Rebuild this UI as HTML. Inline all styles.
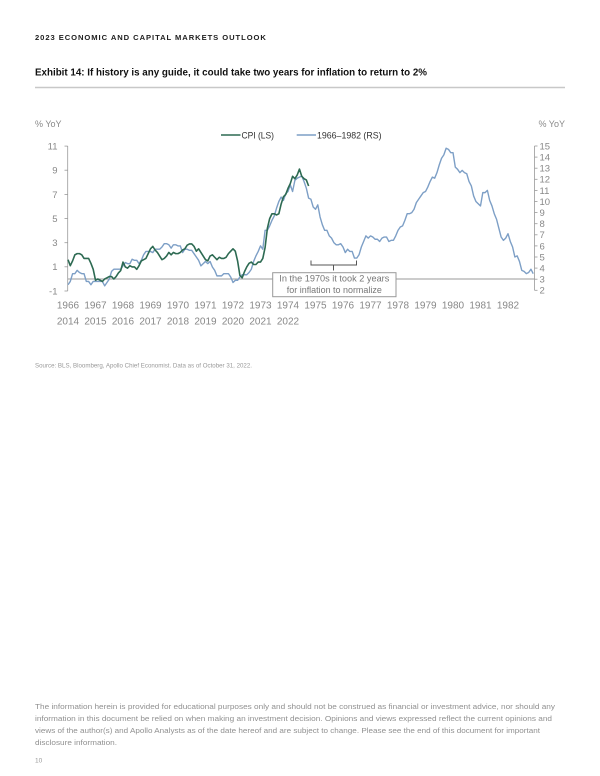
<!DOCTYPE html>
<html><head><meta charset="utf-8"><style>
html,body{margin:0;padding:0;background:#fff;}
svg{display:block;}
text{font-family:"Liberation Sans",sans-serif;}
</style></head><body>
<svg width="600" height="776" viewBox="0 0 600 776" xmlns="http://www.w3.org/2000/svg">
<rect width="600" height="776" fill="#fff"/>
<text x="35" y="40" font-size="7.6" font-weight="bold" fill="#1e1e1e" letter-spacing="0.8" textLength="231.7" lengthAdjust="spacing">2023 ECONOMIC AND CAPITAL MARKETS OUTLOOK</text>
<text x="35" y="75.5" font-size="10" font-weight="bold" fill="#111" textLength="392" lengthAdjust="spacingAndGlyphs">Exhibit 14: If history is any guide, it could take two years for inflation to return to 2%</text>
<line x1="35" y1="87.5" x2="565" y2="87.5" stroke="#c8c8c8" stroke-width="1.5"/>
<text x="35" y="127" font-size="9" fill="#888">% YoY</text>
<text x="565" y="127" font-size="9" fill="#888" text-anchor="end">% YoY</text>
<!-- legend -->
<line x1="221" y1="135" x2="240.5" y2="135" stroke="#2d6a52" stroke-width="1.5"/>
<text x="241.5" y="138.5" font-size="9.5" fill="#333" textLength="32.5" lengthAdjust="spacingAndGlyphs">CPI (LS)</text>
<line x1="296.7" y1="135" x2="316" y2="135" stroke="#7d9fc6" stroke-width="1.5"/>
<text x="317" y="138.5" font-size="9.5" fill="#333" textLength="64.5" lengthAdjust="spacingAndGlyphs">1966–1982 (RS)</text>
<!-- left axis -->
<g stroke="#999" stroke-width="0.8" fill="none">
<line x1="67.7" y1="146" x2="67.7" y2="291"/>
<line x1="64.5" y1="146.1" x2="67.7" y2="146.1"/>
<line x1="64.5" y1="170.2" x2="67.7" y2="170.2"/>
<line x1="64.5" y1="194.4" x2="67.7" y2="194.4"/>
<line x1="64.5" y1="218.5" x2="67.7" y2="218.5"/>
<line x1="64.5" y1="242.7" x2="67.7" y2="242.7"/>
<line x1="64.5" y1="266.8" x2="67.7" y2="266.8"/>
<line x1="64.5" y1="291" x2="67.7" y2="291"/>
<!-- right axis -->
<line x1="534.5" y1="146" x2="534.5" y2="290.3"/>
<line x1="534.5" y1="146" x2="537.5" y2="146"/>
<line x1="534.5" y1="157.1" x2="537.5" y2="157.1"/>
<line x1="534.5" y1="168.2" x2="537.5" y2="168.2"/>
<line x1="534.5" y1="179.3" x2="537.5" y2="179.3"/>
<line x1="534.5" y1="190.4" x2="537.5" y2="190.4"/>
<line x1="534.5" y1="201.5" x2="537.5" y2="201.5"/>
<line x1="534.5" y1="212.6" x2="537.5" y2="212.6"/>
<line x1="534.5" y1="223.7" x2="537.5" y2="223.7"/>
<line x1="534.5" y1="234.8" x2="537.5" y2="234.8"/>
<line x1="534.5" y1="245.9" x2="537.5" y2="245.9"/>
<line x1="534.5" y1="257" x2="537.5" y2="257"/>
<line x1="534.5" y1="268.1" x2="537.5" y2="268.1"/>
<line x1="534.5" y1="279.2" x2="537.5" y2="279.2"/>
<line x1="534.5" y1="290.3" x2="537.5" y2="290.3"/>
</g>
<g font-size="9.5" fill="#888" text-anchor="end">
<text x="57.5" y="149.5">11</text>
<text x="57.5" y="173.6">9</text>
<text x="57.5" y="197.8">7</text>
<text x="57.5" y="221.9">5</text>
<text x="57.5" y="246.1">3</text>
<text x="57.5" y="270.2">1</text>
<text x="57.5" y="294.4">-1</text>
</g>
<g font-size="9.5" fill="#888">
<text x="539.5" y="149.4">15</text>
<text x="539.5" y="160.5">14</text>
<text x="539.5" y="171.6">13</text>
<text x="539.5" y="182.7">12</text>
<text x="539.5" y="193.8">11</text>
<text x="539.5" y="204.9">10</text>
<text x="539.5" y="216">9</text>
<text x="539.5" y="227.1">8</text>
<text x="539.5" y="238.2">7</text>
<text x="539.5" y="249.3">6</text>
<text x="539.5" y="260.4">5</text>
<text x="539.5" y="271.5">4</text>
<text x="539.5" y="282.6">3</text>
<text x="539.5" y="293.7">2</text>
</g>
<!-- zero line -->
<line x1="68" y1="279" x2="535" y2="279" stroke="#999" stroke-width="1"/>
<!-- blue series 1966-1982 -->
<polyline fill="none" stroke="#7d9fc6" stroke-width="1.4" stroke-linejoin="round" vector-effect="non-scaling-stroke" transform="matrix(2.2917 0 0 -11.1 56.54 312.5)" points="
5,2.5 6,2.8 7,3.5 8,3.5 9,3.8 10,3.6 11,3.5
12,3.5 13,2.8 14,2.8 15,2.5 16,2.8 17,2.8 18,2.8 19,2.8 20,2.8 21,2.4 22,2.7 23,3.0
24,3.7 25,3.9 26,3.9 27,3.9 28,3.9 29,4.2 30,4.5 31,4.4 32,4.4 33,4.8 34,4.7 35,4.7
36,4.4 37,4.7 38,5.2 39,5.5 40,5.5 41,5.5 42,5.4 43,5.7 44,5.7 45,5.7 46,5.9 47,6.2
48,6.2 49,6.1 50,5.8 51,6.1 52,6.1 53,6.0 54,6.0 55,5.4 56,5.7 57,5.7 58,5.6 59,5.6
60,5.3 61,5.0 62,4.7 63,4.2 64,4.4 65,4.6 66,4.4 67,4.6 68,4.1 69,3.8 70,3.3 71,3.3
72,3.3 73,3.5 74,3.5 75,3.5 76,3.2 77,2.7 78,2.9 79,2.9 80,3.2 81,3.4 82,3.4 83,3.4
84,3.6 85,3.9 86,4.6 87,5.1 88,5.5 89,6.0 90,5.7 91,7.4 92,7.4 93,7.8 94,8.3 95,8.7
96,9.4 97,10.0 98,10.4 99,10.1 100,10.7 101,10.9 102,11.5 103,10.9 104,11.9 105,12.1 106,12.2 107,12.3
108,11.8 109,11.2 110,10.3 111,10.2 112,9.5 113,9.3 114,9.7 115,8.6 116,7.9 117,7.4 118,7.4 119,6.9
120,6.7 121,6.3 122,6.1 123,6.1 124,6.2 125,5.9 126,5.4 127,5.7 128,5.5 129,5.5 130,4.9 131,4.9
132,5.2 133,5.9 134,6.4 135,6.9 136,6.7 137,6.9 138,6.8 139,6.6 140,6.6 141,6.4 142,6.7 143,6.8
144,6.8 145,6.4 146,6.5 147,6.5 148,6.9 149,7.4 150,7.7 151,7.8 152,8.3 153,8.9 154,8.9 155,9.0
156,9.3 157,9.9 158,10.2 159,10.5 160,10.8 161,10.9 162,11.3 163,11.8 164,12.2 165,12.1 166,12.6 167,13.3
168,13.9 169,14.2 170,14.8 171,14.7 172,14.4 173,14.4 174,13.1 175,12.9 176,12.6 177,12.8 178,12.6 179,12.5
180,11.8 181,11.4 182,10.5 183,10.0 184,9.8 185,9.6 186,10.8 187,10.8 188,11.0 189,10.1 190,9.6 191,8.9
192,8.4 193,7.6 194,6.8 195,6.5 196,6.7 197,7.1 198,6.4 199,5.9 200,5.0 201,5.1 202,4.6 203,3.8
204,3.7 205,3.5 206,3.6 207,3.9 208,3.5"/>
<!-- green series CPI 2014-2022 -->
<polyline fill="none" stroke="#2d6a52" stroke-width="1.6" stroke-linejoin="round" vector-effect="non-scaling-stroke" transform="matrix(2.2917 0 0 -12.08 68 279)" points="
0,1.6 1,1.1 2,1.5 3,2.0 4,2.1 5,2.1 6,2.0 7,1.7 8,1.7 9,1.7 10,1.3 11,0.8
12,-0.1 13,0.0 14,-0.1 15,-0.2 16,0.0 17,0.1 18,0.2 19,0.2 20,0.0 21,0.2 22,0.5 23,0.7
24,1.4 25,1.0 26,0.9 27,1.1 28,1.0 29,1.0 30,0.8 31,1.1 32,1.5 33,1.6 34,1.7 35,2.1
36,2.5 37,2.7 38,2.4 39,2.2 40,1.9 41,1.6 42,1.7 43,1.9 44,2.2 45,2.0 46,2.2 47,2.1
48,2.1 49,2.2 50,2.4 51,2.5 52,2.8 53,2.9 54,2.9 55,2.7 56,2.3 57,2.5 58,2.2 59,1.9
60,1.6 61,1.5 62,1.9 63,2.0 64,1.8 65,1.6 66,1.8 67,1.7 68,1.7 69,1.8 70,2.1 71,2.3
72,2.5 73,2.3 74,1.5 75,0.3 76,0.1 77,0.6 78,1.0 79,1.3 80,1.4 81,1.2 82,1.2 83,1.4
84,1.4 85,1.7 86,2.6 87,4.2 88,5.0 89,5.4 90,5.4 91,5.3 92,5.4 93,6.2 94,6.8 95,7.0
96,7.5 97,7.9 98,8.5 99,8.3 100,8.6 101,9.1 102,8.5 103,8.3 104,8.2 105,7.7"/>
<!-- bracket -->
<path d="M311,260.5 V265 H356.5 V260.5 M333.5,265 V270.5" fill="none" stroke="#555" stroke-width="1"/>
<!-- annotation box -->
<rect x="272.7" y="272.7" width="123.3" height="24" fill="#fff" stroke="#999" stroke-width="1"/>
<text x="334.3" y="281.3" font-size="9.5" fill="#777" text-anchor="middle" textLength="110" lengthAdjust="spacingAndGlyphs">In the 1970s it took 2 years</text>
<text x="334.3" y="292.8" font-size="9.5" fill="#777" text-anchor="middle" textLength="95" lengthAdjust="spacingAndGlyphs">for inflation to normalize</text>
<!-- x labels -->
<g font-size="10" fill="#888" text-anchor="middle">
<text x="68" y="308.5">1966</text>
<text x="95.5" y="308.5">1967</text>
<text x="123" y="308.5">1968</text>
<text x="150.5" y="308.5">1969</text>
<text x="178" y="308.5">1970</text>
<text x="205.5" y="308.5">1971</text>
<text x="233" y="308.5">1972</text>
<text x="260.5" y="308.5">1973</text>
<text x="288" y="308.5">1974</text>
<text x="315.5" y="308.5">1975</text>
<text x="343" y="308.5">1976</text>
<text x="370.5" y="308.5">1977</text>
<text x="398" y="308.5">1978</text>
<text x="425.5" y="308.5">1979</text>
<text x="453" y="308.5">1980</text>
<text x="480.5" y="308.5">1981</text>
<text x="508" y="308.5">1982</text>
<text x="68" y="324.3">2014</text>
<text x="95.5" y="324.3">2015</text>
<text x="123" y="324.3">2016</text>
<text x="150.5" y="324.3">2017</text>
<text x="178" y="324.3">2018</text>
<text x="205.5" y="324.3">2019</text>
<text x="233" y="324.3">2020</text>
<text x="260.5" y="324.3">2021</text>
<text x="288" y="324.3">2022</text>
</g>
<text x="35" y="367.5" font-size="6" fill="#999" textLength="217" lengthAdjust="spacingAndGlyphs">Source: BLS, Bloomberg, Apollo Chief Economist. Data as of October 31, 2022.</text>
<!-- footer -->
<g font-size="7.5" fill="#909090">
<text x="35" y="709" textLength="520" lengthAdjust="spacingAndGlyphs">The information herein is provided for educational purposes only and should not be construed as financial or investment advice, nor should any</text>
<text x="35" y="721" textLength="517" lengthAdjust="spacingAndGlyphs">information in this document be relied on when making an investment decision. Opinions and views expressed reflect the current opinions and</text>
<text x="35" y="733" textLength="505" lengthAdjust="spacingAndGlyphs">views of the author(s) and Apollo Analysts as of the date hereof and are subject to change. Please see the end of this document for important</text>
<text x="35" y="745" textLength="82" lengthAdjust="spacingAndGlyphs">disclosure information.</text>
</g>
<text x="35" y="762.5" font-size="6.5" fill="#999">10</text>
</svg>
</body></html>
